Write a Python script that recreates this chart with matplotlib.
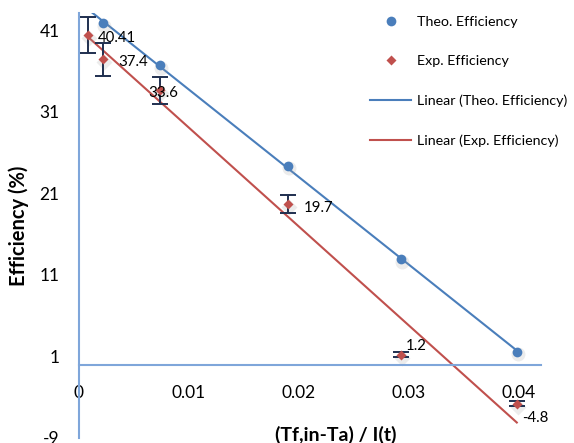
import numpy as np
import matplotlib
matplotlib.use("Agg")
import matplotlib.pyplot as plt
from matplotlib.lines import Line2D

plt.rcParams['font.family'] = ['Lato', 'DejaVu Sans']
plt.rcParams['axes.unicode_minus'] = False

# data
x_vals = [0.0008, 0.0022, 0.0074, 0.0190, 0.0293, 0.0398]
theo_eff = [43.4, 41.9, 36.7, 24.4, 12.9, 1.6]
exp_eff = [40.41, 37.4, 33.6, 19.7, 1.2, -4.8]
exp_err = [2.2, 2.0, 1.7, 1.15, 0.3, 0.3]
exp_labels = ["40.41", "37.4", "33.6", "19.7", "1.2", "-4.8"]
x_ticks = [0, 0.01, 0.02, 0.03, 0.04]
x_ticklabels = ["0", "0.01", "0.02", "0.03", "0.04"]
y_ticks = [-9, 1, 11, 21, 31, 41]

blue = '#4a7ebb'
red = '#c0504d'
axis_col = '#7fa6da'
err_col = '#1f2f4f'
ymin, ymax = -9, 43.1

fig = plt.figure(figsize=(5.74, 4.43), dpi=100)
ax = fig.add_axes([79 / 574, 1 - 438 / 443, (541 - 79) / 574, (438 - 13) / 443])
ax.set_xlim(0, 0.042)
ax.set_ylim(ymin, ymax)

# axes: only the left line and a horizontal line through y = 0
for s in ['top', 'right']:
    ax.spines[s].set_visible(False)
ax.spines['bottom'].set_position(('data', 0))
ax.spines['left'].set_position(('data', 0))
for s in ['bottom', 'left']:
    ax.spines[s].set_color(axis_col)
    ax.spines[s].set_linewidth(1.5)

ax.set_xticks(x_ticks)
ax.set_xticklabels(x_ticklabels)
ax.set_yticks(y_ticks)
ax.tick_params(axis='x', length=0, pad=15, labelsize=12.5)
ax.tick_params(axis='y', length=0, pad=14, labelsize=12.5)

# linear trendlines
xs = np.array(x_vals)
for yv, col in [(theo_eff, blue), (exp_eff, red)]:
    k, b = np.polyfit(xs, yv, 1)
    xl = np.array([xs.min(), xs.max()])
    ax.plot(xl, k * xl + b, color=col, lw=1.5, zorder=2)

# points outside the value range are not drawn (as in the original)
theo_vis = np.ma.masked_greater(np.array(theo_eff), ymax)

# soft shadows under the markers
ax.plot(xs + 0.00008, theo_vis - 0.35, 'o', ms=10, color='#a0a0a0',
        alpha=0.2, mec='none', zorder=2.5)
ax.plot(xs + 0.00008, np.array(exp_eff) - 0.35, 'D', ms=8, color='#a0a0a0',
        alpha=0.2, mec='none', zorder=2.5)

ax.errorbar(xs, exp_eff, yerr=exp_err, fmt='none', ecolor=err_col,
            elinewidth=1.4, capsize=6, capthick=1.4, zorder=3)
ax.plot(xs, theo_vis, 'o', ms=7, color=blue, mec='none', zorder=4)
ax.plot(xs, exp_eff, 'D', ms=5.5, color=red, mec='none', zorder=4)

offsets = [(7, -2), (11, -2), (-9, -2), (11, -3), (3, 6), (4, -10)]
for xv, yv, lab, off in zip(x_vals, exp_eff, exp_labels, offsets):
    ax.annotate(lab, (xv, yv), xytext=off, textcoords='offset points',
                ha='left', va='center', fontsize=10.8, zorder=5)

fig.text(336 / 574, 1 - 435 / 443, '(Tf,in-Ta) / I(t)', fontsize=14,
         fontweight='bold', ha='center', va='center')
fig.text(19 / 574, 1 - 226 / 443, 'Efficiency (%)', fontsize=14.5,
         fontweight='bold', ha='center', va='center', rotation=90)

handles = [
    Line2D([], [], ls='none', marker='o', ms=7, color=blue, mec='none'),
    Line2D([], [], ls='none', marker='D', ms=5, color=red, mec='none'),
    Line2D([], [], color=blue, lw=1.5),
    Line2D([], [], color=red, lw=1.5),
]
names = ['Theo. Efficiency', 'Exp. Efficiency',
         'Linear (Theo. Efficiency)', 'Linear (Exp. Efficiency)']
fig.legend(handles, names, loc='upper left', bbox_to_anchor=(370 / 574, 1 - 16 / 443),
           frameon=False, fontsize=10.3, handlelength=2.9, handletextpad=0.42,
           labelspacing=1.9, borderaxespad=0, borderpad=0)

fig.savefig('out.png', dpi=100)
